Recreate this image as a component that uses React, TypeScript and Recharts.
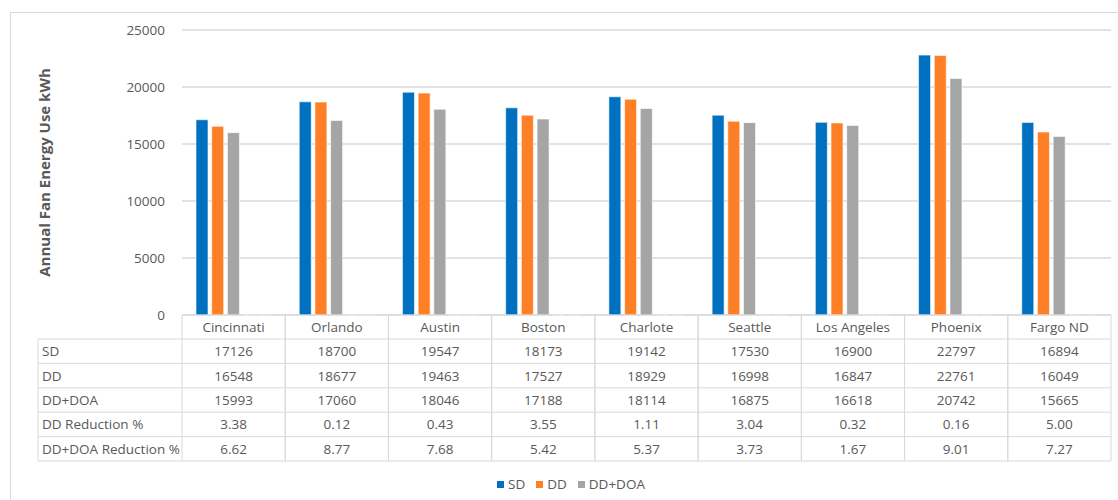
import React from 'react';
import { BarChart, Bar, XAxis, YAxis, CartesianGrid } from 'recharts';

// Annual fan energy use by city, with the Excel-style data table underneath
const categories = [
  'Cincinnati', 'Orlando', 'Austin', 'Boston', 'Charlote',
  'Seattle', 'Los Angeles', 'Phoenix', 'Fargo ND',
];
const sd = [17126, 18700, 19547, 18173, 19142, 17530, 16900, 22797, 16894];
const dd = [16548, 18677, 19463, 17527, 18929, 16998, 16847, 22761, 16049];
const ddDoa = [15993, 17060, 18046, 17188, 18114, 16875, 16618, 20742, 15665];
const ddReduction = [3.38, 0.12, 0.43, 3.55, 1.11, 3.04, 0.32, 0.16, 5.0];
const ddDoaReduction = [6.62, 8.77, 7.68, 5.42, 5.37, 3.73, 1.67, 9.01, 7.27];
const yTicks = [0, 5000, 10000, 15000, 20000, 25000];

const FONT = '"Open Sans", "Liberation Sans", sans-serif';
const TEXT = '#595959';
const RULE = '#d9d9d9';

// series drawn as bars (the two reduction rows are tiny on this scale, as in the original)
const series = [
  { key: 'sd', name: 'SD', color: '#0070C0', values: sd, legend: true },
  { key: 'dd', name: 'DD', color: '#FF7F27', values: dd, legend: true },
  { key: 'ddDoa', name: 'DD+DOA', color: '#A5A5A5', values: ddDoa, legend: true },
  { key: 'ddRed', name: 'DD Reduction %', color: '#FFC000', values: ddReduction, legend: false },
  { key: 'ddDoaRed', name: 'DD+DOA Reduction %', color: '#5B9BD5', values: ddDoaReduction, legend: false },
];

const tableRows = [
  { label: 'SD', values: sd.map(String) },
  { label: 'DD', values: dd.map(String) },
  { label: 'DD+DOA', values: ddDoa.map(String) },
  { label: 'DD Reduction %', values: ddReduction.map((v) => v.toFixed(2)) },
  { label: 'DD+DOA Reduction %', values: ddDoaReduction.map((v) => v.toFixed(2)) },
];

const chartData = categories.map((name, i) => {
  const row: Record<string, any> = { name };
  series.forEach((s) => {
    row[s.key] = s.values[i];
  });
  return row;
});

const HEADER_H = 24;
const ROW_H = 24.4;
const LABEL_LEFT = 38;

/**
 * Draws one column of the data table under each category band
 */
function TableColumn(props: any) {
  const { x, y, payload, index, width } = props;
  const half = payload?.offset || (width ? width / categories.length / 2 : 51.6);
  const left = x - half;
  const right = x + half;
  const bottom = y + HEADER_H + ROW_H * tableRows.length;
  const textStyle = { fontFamily: FONT, fontSize: 13.5, fill: TEXT };

  return (
    <g>
      <line x1={left} y1={y} x2={right} y2={y} stroke={RULE} />
      <line x1={left} y1={y} x2={left} y2={bottom} stroke={RULE} />
      <line x1={right} y1={y} x2={right} y2={bottom} stroke={RULE} />
      <text x={x} y={y + HEADER_H / 2} textAnchor="middle" dominantBaseline="central" style={textStyle}>
        {payload.value}
      </text>
      {tableRows.map((r, ri) => {
        const top = y + HEADER_H + ri * ROW_H;
        return (
          <g key={r.label}>
            <line x1={left} y1={top} x2={right} y2={top} stroke={RULE} />
            <text x={x} y={top + ROW_H / 2} textAnchor="middle" dominantBaseline="central" style={textStyle}>
              {r.values[index]}
            </text>
          </g>
        );
      })}
      <line x1={left} y1={bottom} x2={right} y2={bottom} stroke={RULE} />
      {/* row labels on the left, drawn once */}
      {index === 0 && (
        <g>
          <line x1={LABEL_LEFT} y1={y + HEADER_H} x2={LABEL_LEFT} y2={bottom} stroke={RULE} />
          {tableRows.map((r, ri) => {
            const top = y + HEADER_H + ri * ROW_H;
            return (
              <g key={r.label}>
                <line x1={LABEL_LEFT} y1={top} x2={left} y2={top} stroke={RULE} />
                <text x={LABEL_LEFT + 4} y={top + ROW_H / 2} dominantBaseline="central" style={textStyle}>
                  {r.label}
                </text>
              </g>
            );
          })}
          <line x1={LABEL_LEFT} y1={bottom} x2={left} y2={bottom} stroke={RULE} />
        </g>
      )}
    </g>
  );
}

function AxisTitle(props: any) {
  const { viewBox } = props;
  const cx = viewBox.x + 22;
  const cy = viewBox.y + viewBox.height / 2;
  return (
    <text
      x={cx}
      y={cy}
      transform={`rotate(-90, ${cx}, ${cy})`}
      textAnchor="middle"
      dominantBaseline="central"
      style={{ fontFamily: FONT, fontSize: 15, fontWeight: 700, fill: TEXT }}
    >
      Annual Fan Energy Use kWh
    </text>
  );
}

export default function App() {
  return (
    <div
      style={{
        position: 'absolute',
        left: 0,
        top: 0,
        width: 1118,
        height: 500,
        background: '#fff',
        overflow: 'hidden',
        fontFamily: FONT,
      }}
    >
      <div
        style={{
          position: 'absolute',
          left: 10,
          top: 12,
          width: 1130,
          height: 520,
          border: `1px solid ${RULE}`,
        }}
      />
      <div style={{ position: 'absolute', left: 0, top: 0 }}>
        <BarChart
          width={1118}
          height={500}
          data={chartData}
          margin={{ top: 30, right: 7, bottom: 39, left: 22 }}
          barSize={12}
          barGap={3.7}
        >
          <CartesianGrid vertical={false} stroke={RULE} strokeWidth={1.5} />
          <XAxis
            dataKey="name"
            height={146}
            interval={0}
            axisLine={false}
            tickLine={false}
            tickSize={0}
            tickMargin={0}
            tick={<TableColumn />}
          />
          <YAxis
            width={160}
            domain={[0, 25000]}
            ticks={yTicks}
            axisLine={false}
            tickLine={false}
            tickSize={0}
            tickMargin={17}
            tick={{ fill: TEXT, fontSize: 13.5, fontFamily: FONT }}
            label={<AxisTitle />}
          />
          {series.map((s) => (
            <Bar
              key={s.key}
              dataKey={s.key}
              name={s.name}
              fill={s.color}
              stroke="#fff"
              strokeWidth={0.6}
              isAnimationActive={false}
            />
          ))}
        </BarChart>
      </div>
      {/* legend */}
      <div
        style={{
          position: 'absolute',
          left: 497,
          top: 475,
          display: 'flex',
          alignItems: 'center',
          fontSize: 13.5,
          color: TEXT,
        }}
      >
        {series
          .filter((s) => s.legend)
          .map((s) => (
            <div key={s.key} style={{ display: 'flex', alignItems: 'center', marginRight: 11 }}>
              <span style={{ width: 7, height: 7, background: s.color, marginRight: 4, display: 'inline-block' }} />
              <span>{s.name}</span>
            </div>
          ))}
      </div>
    </div>
  );
}
